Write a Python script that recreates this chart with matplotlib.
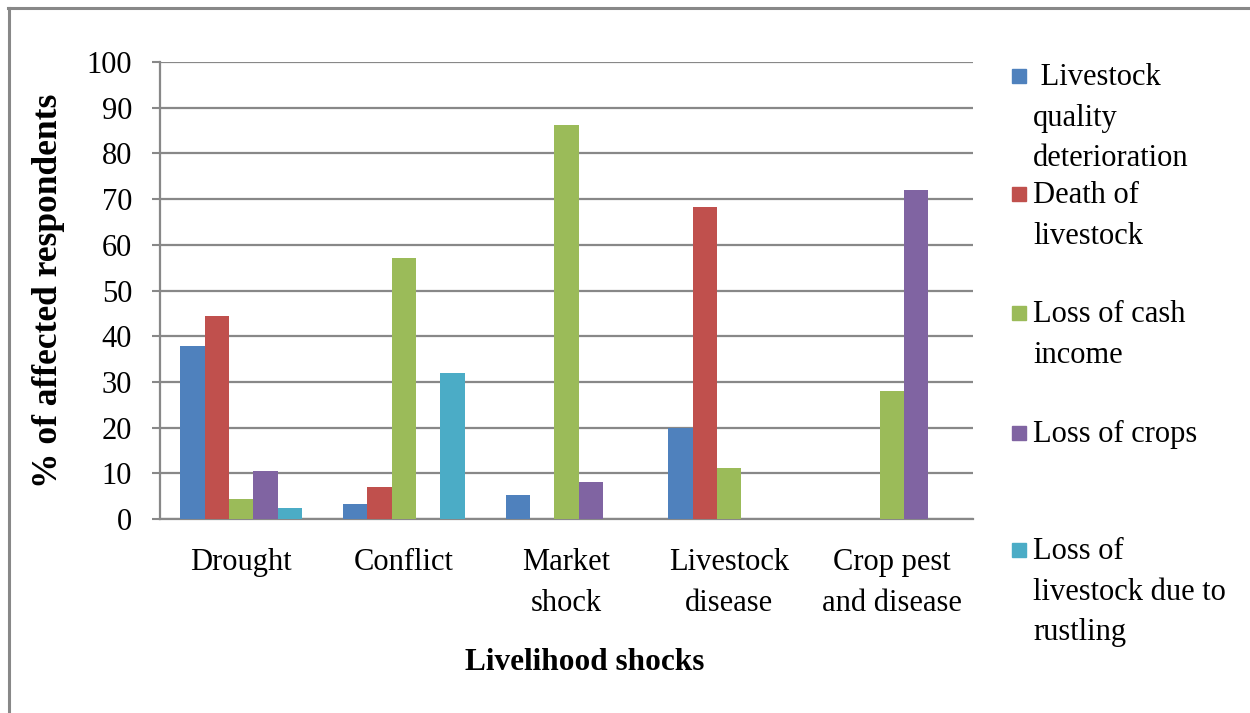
import matplotlib
matplotlib.use("Agg")
import matplotlib.pyplot as plt
from matplotlib.lines import Line2D
from matplotlib.patches import Rectangle
import numpy as np

plt.rcParams['font.family'] = ['Liberation Serif', 'DejaVu Serif']

# Livelihood shocks (x categories)
shocks = ["Drought", "Conflict", "Market\nshock", "Livestock\ndisease", "Crop pest\nand disease"]

# Share of affected respondents (%) per consequence
quality_deterioration = [37.9, 3.3, 5.3, 20.0, 0.0]
death_of_livestock = [44.5, 7.1, 0.0, 68.3, 0.0]
loss_of_cash_income = [4.3, 57.1, 86.3, 11.2, 27.9]
loss_of_crops = [10.6, 0.0, 8.1, 0.0, 72.1]
loss_to_rustling = [2.3, 32.0, 0.0, 0.0, 0.0]

series_labels = [" Livestock\nquality\ndeterioration", "Death of\nlivestock",
                 "Loss of cash\nincome", "Loss of crops",
                 "Loss of\nlivestock due to\nrustling"]
series_values = [quality_deterioration, death_of_livestock, loss_of_cash_income,
                 loss_of_crops, loss_to_rustling]
colors = ["#4F81BD", "#C0504D", "#9BBB59", "#8064A2", "#4BACC6"]

W, H = 1250, 713
fig = plt.figure(figsize=(W / 100, H / 100), dpi=100)
ax = fig.add_axes([160 / W, 1 - 519 / H, (973 - 160) / W, (519 - 62) / H])

grid_gray = "#888888"
x = np.arange(len(shocks))
bw = 0.15
for i, (vals, col) in enumerate(zip(series_values, colors)):
    ax.bar(x + (i - 2) * bw, vals, width=bw, color=col, zorder=3,
           edgecolor="none")

ax.set_xlim(-0.5, len(shocks) - 0.5)
ax.set_ylim(0, 100)
ax.set_yticks(np.arange(0, 101, 10))
ax.set_xticks(x)
ax.set_xticklabels(shocks, fontsize=22, linespacing=1.52)
ax.tick_params(axis='x', length=0, pad=21)
ax.tick_params(axis='y', length=6, width=1.5, color=grid_gray, pad=14,
               labelsize=22)
ax.yaxis.grid(True, color=grid_gray, linewidth=1.6, zorder=0)
ax.set_axisbelow(True)
for s in ["top", "right"]:
    ax.spines[s].set_visible(False)
for s in ["left", "bottom"]:
    ax.spines[s].set_color(grid_gray)
    ax.spines[s].set_linewidth(1.6)

ax.set_ylabel("% of affected respondents", fontsize=25.5, fontweight='bold')
ax.yaxis.set_label_coords(-0.117, 0.5)
fig.text(585 / W, 1 - 662 / H, "Livelihood shocks", fontsize=22.5,
         fontweight='bold', ha='center', va='center')

# Legend drawn as squares and wrapped text on the right
entry_tops = [63, 181, 300, 420, 537]
for lab, col, top in zip(series_labels, colors, entry_tops):
    cy = top + 13
    fig.patches.append(Rectangle((1012 / W, 1 - (cy + 7) / H), 14 / W, 14 / H,
                                 transform=fig.transFigure, color=col))
    fig.text(1033 / W, 1 - top / H, lab, fontsize=22, ha='left', va='top',
             linespacing=1.53)

# Outer frame (top and left edges)
fig.add_artist(Line2D([8 / W, 1], [1 - 7.5 / H, 1 - 7.5 / H],
                      transform=fig.transFigure, color=grid_gray, linewidth=2.2))
fig.add_artist(Line2D([8.5 / W, 8.5 / W], [0, 1 - 7.5 / H],
                      transform=fig.transFigure, color=grid_gray, linewidth=2.2))

fig.savefig("out.png", dpi=100)
